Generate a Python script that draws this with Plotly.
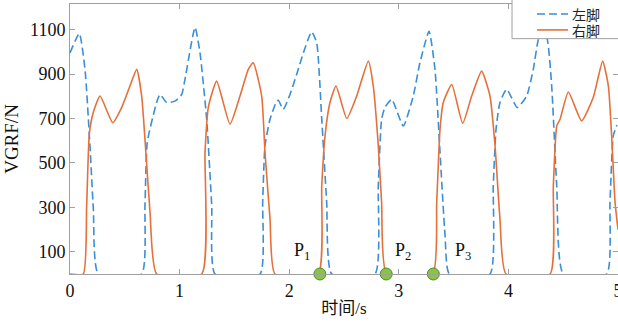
import plotly.graph_objects as go

# 左脚 (left foot) VGRF, dashed blue
left_t = [0.0, 0.085, 0.137, 0.182, 0.213, 0.258, 0.654, 0.684, 0.705, 0.791, 0.821, 0.882, 0.958, 1.019,
          1.049, 1.141, 1.186, 1.247, 1.293, 1.323, 1.734, 1.758, 1.779, 1.825, 1.886, 1.901, 1.946, 2.007,
          2.068, 2.129, 2.205, 2.251, 2.297, 2.342, 2.388, 2.783, 2.813, 2.843, 2.874, 2.935, 3.041, 3.132,
          3.193, 3.276, 3.330, 3.376, 3.422, 3.461, 3.832, 3.862, 3.887, 3.923, 3.984, 4.081, 4.167, 4.227,
          4.273, 4.310, 4.355, 4.395, 4.441, 4.501, 4.897, 4.927, 4.957, 4.990]
left_f = [995, 1082, 920, 577, 293, 0, 0, 308, 593, 773, 808, 772, 778, 808,
          876, 1110, 996, 696, 308, 0, 0, 324, 577, 696, 778, 782, 741, 808,
          898, 995, 1090, 1040, 696, 324, 0, 0, 397, 696, 750, 786, 666, 801,
          951, 1092, 921, 548, 173, 0, 0, 397, 651, 772, 831, 749, 801, 921,
          1055, 1095, 1055, 846, 397, 0, 0, 324, 622, 670]

# 右脚 (right foot) VGRF, solid orange
right_t = [0.0, 0.121, 0.152, 0.176, 0.213, 0.274, 0.390, 0.472, 0.547, 0.609, 0.654, 0.684, 0.730, 0.791,
           1.202, 1.232, 1.262, 1.338, 1.460, 1.551, 1.627, 1.672, 1.749, 1.779, 1.825, 1.870,
           2.265, 2.297, 2.327, 2.372, 2.427, 2.525, 2.616, 2.722, 2.767, 2.813, 2.843, 2.889,
           3.309, 3.346, 3.376, 3.406, 3.483, 3.583, 3.665, 3.756, 3.832, 3.878, 3.923, 3.978,
           4.380, 4.410, 4.441, 4.471, 4.547, 4.668, 4.774, 4.860, 4.912, 4.942, 4.973, 5.0]
right_f = [0, 0, 308, 629, 728, 801, 681, 750, 846, 921, 801, 607, 279, 0,
           0, 548, 750, 868, 674, 801, 921, 951, 801, 548, 248, 0,
           0, 397, 622, 772, 846, 700, 801, 958, 846, 577, 324, 0,
           0, 324, 651, 772, 853, 678, 801, 913, 801, 577, 248, 0,
           0, 397, 666, 696, 819, 689, 794, 958, 846, 622, 324, 200]

# marked points P1..P3
point_t = [2.28, 2.885, 3.315]
point_f = [0, 0, 0]
point_labels = ["P<sub>1</sub>", "P<sub>2</sub>", "P<sub>3</sub>"]
label_t = [2.117, 3.04, 3.586]
label_f = [101, 101, 101]

x_ticks = [0, 1, 2, 3, 4, 5]
y_ticks = [100, 300, 500, 700, 900, 1100]
legend_names = ["左脚", "右脚"]

BLUE = "#3a8fd6"
ORANGE = "#e5703a"
AXIS = "#a0a0a0"
SERIF = "Liberation Serif, Times New Roman, serif"
CJK = "Liberation Serif, Noto Sans CJK SC, sans-serif"
DASH = "8px,4px"

fig = go.Figure()
fig.add_trace(go.Scatter(x=left_t, y=left_f, mode="lines", name=legend_names[0], showlegend=False,
                         line=dict(color=BLUE, width=1.6, dash=DASH, shape="spline", smoothing=0.5)))
fig.add_trace(go.Scatter(x=right_t, y=right_f, mode="lines", name=legend_names[1], showlegend=False,
                         line=dict(color=ORANGE, width=1.6, shape="spline", smoothing=0.5)))
fig.add_trace(go.Scatter(x=point_t, y=point_f, mode="markers", showlegend=False,
                         marker=dict(size=12, color="#88c540", line=dict(color="#4f8a35", width=1)),
                         cliponaxis=False))

for t, f, s in zip(label_t, label_f, point_labels):
    fig.add_annotation(x=t, y=f, text=s, showarrow=False,
                       font=dict(family=SERIF, size=18, color="#111"))

# legend: box, line samples and names (paper coordinates, top-right corner)
fig.add_shape(type="rect", xref="paper", yref="paper", x0=0.8066, x1=1.03, y0=0.8717, y1=1.04,
              fillcolor="white", line=dict(color=AXIS, width=1), layer="above")
legend_rows = [(0.963, BLUE, DASH), (0.904, ORANGE, "solid")]
for (ly, col, dsh), name in zip(legend_rows, legend_names):
    fig.add_shape(type="line", xref="paper", yref="paper", x0=0.8522, x1=0.9088, y0=ly, y1=ly,
                  line=dict(color=col, width=1.6, dash=dsh), layer="above")
    fig.add_annotation(xref="paper", yref="paper", x=0.913, y=ly, text=name, showarrow=False,
                       xanchor="left", yanchor="middle",
                       font=dict(family="Noto Sans CJK SC", size=14, color="#222"))

fig.update_layout(
    width=618, height=324,
    margin=dict(l=70, r=0, t=4, b=50, autoexpand=False),
    paper_bgcolor="white", plot_bgcolor="white",
    showlegend=False,
    xaxis=dict(range=[0, 5], tickvals=x_ticks, showgrid=False, zeroline=False, automargin=False,
               showline=True, linecolor=AXIS, linewidth=1, mirror="ticks",
               ticks="inside", ticklen=5, tickcolor=AXIS, ticklabeloverflow="allow",
               tickfont=dict(family=SERIF, size=18, color="#111"),
               title=dict(text="时间/s", font=dict(family=CJK, size=17, color="#111"), standoff=2)),
    yaxis=dict(range=[0, 1215], tickvals=y_ticks, showgrid=False, zeroline=False, automargin=False,
               showline=True, linecolor=AXIS, linewidth=1, mirror="ticks",
               ticks="inside", ticklen=5, tickcolor=AXIS,
               tickfont=dict(family=SERIF, size=18, color="#111"),
               title=dict(text="VGRF/N", font=dict(family=SERIF, size=19, color="#111"), standoff=6)),
)

fig.write_html("out.html", config={"displayModeBar": False},
               post_script="document.body.style.margin='0';document.body.style.padding='0';")
